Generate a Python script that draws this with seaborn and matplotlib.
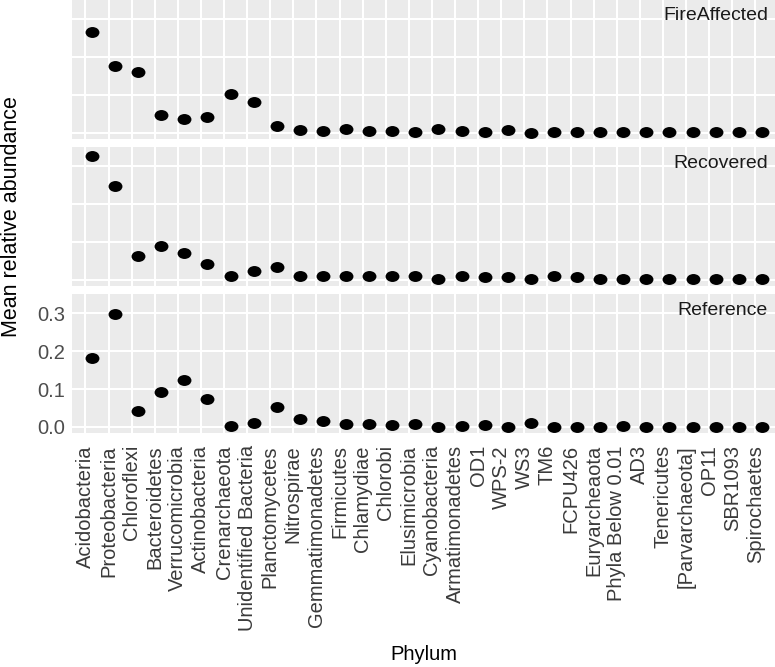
import numpy as np
import pandas as pd
import matplotlib
matplotlib.use("Agg")
import matplotlib.pyplot as plt
import seaborn as sns
from matplotlib.path import Path
from matplotlib.transforms import Affine2D, ScaledTranslation

sns.set_theme(style="darkgrid")
plt.rcParams["font.family"] = ["Liberation Sans", "DejaVu Sans"]

phyla = ["Acidobacteria", "Proteobacteria", "Chloroflexi", "Bacteroidetes",
         "Verrucomicrobia", "Actinobacteria", "Crenarchaeota",
         "Unidentified Bacteria", "Planctomycetes", "Nitrospirae",
         "Gemmatimonadetes", "Firmicutes", "Chlamydiae", "Chlorobi",
         "Elusimicrobia", "Cyanobacteria", "Armatimonadetes", "OD1", "WPS-2",
         "WS3", "TM6", "FCPU426", "Euryarcheaota", "Phyla Below 0.01", "AD3",
         "Tenericutes", "[Parvarchaeota]", "OP11", "SBR1093", "Spirochaetes"]

fire_affected = [0.266, 0.177, 0.159, 0.046, 0.035, 0.041, 0.102, 0.080,
                 0.017, 0.008, 0.005, 0.011, 0.005, 0.005, 0.002, 0.011,
                 0.005, 0.002, 0.007, 0.000, 0.002, 0.003, 0.003, 0.002,
                 0.002, 0.002, 0.002, 0.002, 0.003, 0.002]
recovered = [0.326, 0.247, 0.064, 0.090, 0.070, 0.042, 0.011, 0.022,
             0.033, 0.009, 0.009, 0.011, 0.011, 0.009, 0.011, 0.002,
             0.009, 0.007, 0.007, 0.001, 0.009, 0.007, 0.003, 0.001,
             0.002, 0.001, 0.001, 0.001, 0.001, 0.001]
reference = [0.182, 0.299, 0.043, 0.093, 0.124, 0.073, 0.003, 0.011,
             0.053, 0.020, 0.016, 0.008, 0.007, 0.005, 0.008, 0.001,
             0.003, 0.005, 0.000, 0.010, 0.001, 0.001, 0.001, 0.003,
             0.001, 0.001, 0.001, 0.001, 0.001, 0.001]

sites = ["FireAffected", "Recovered", "Reference"]

df = pd.DataFrame({"Phylum": phyla, "FireAffected": fire_affected,
                   "Recovered": recovered, "Reference": reference})
df = df.melt(id_vars="Phylum", var_name="Site", value_name="Abundance")

# points look slightly oval in the original
oval = Path.unit_circle().transformed(Affine2D().scale(1.27, 1.0))

fig, axes = plt.subplots(3, 1, figsize=(7.75, 6.67), dpi=100,
                         sharex=True, sharey=True)
fig.subplots_adjust(left=72 / 775, right=1.0, top=1.0,
                    bottom=(667 - 433.3) / 667, hspace=0.0585)

shift = ScaledTranslation(6.5 / 100, 0, fig.dpi_scale_trans)

for ax, site in zip(axes, sites):
    sub = df[df["Site"] == site]
    sns.scatterplot(data=sub, x="Phylum", y="Abundance", ax=ax,
                    marker=oval, s=100, color="black", linewidth=0,
                    legend=False)
    for coll in ax.collections:
        coll.set_offset_transform(coll.get_offset_transform() + shift)
    ax.set_facecolor("#EBEBEB")
    ax.grid(True, color="white", linewidth=1.5)
    for sp in ax.spines.values():
        sp.set_visible(False)
    ax.set_xlabel("")
    ax.set_ylabel("")
    ax.annotate(site, xy=(1, 1), xycoords="axes fraction",
                xytext=(-5, -11.5), textcoords="offset points",
                ha="right", va="center", fontsize=14, color="#1A1A1A")
    ax.tick_params(axis="y", length=3, width=0.8, color="#333333",
                   labelsize=14.5, labelcolor="#4D4D4D", pad=2)
    ax.tick_params(axis="x", length=0)

axes[0].set_ylim(-0.0167, 0.35)
axes[0].set_yticks([0.0, 0.1, 0.2, 0.3])
axes[0].set_xlim(-0.58, len(phyla) - 1 + 0.85)
for ax in axes[:2]:
    ax.tick_params(axis="y", labelleft=False)

bottom = axes[2]
bottom.tick_params(axis="x", length=3, width=0.8, color="#333333",
                   labelsize=14.5, labelcolor="#3A3A3A", pad=5.5)
bottom.set_xticks(range(len(phyla)))
bottom.set_xticklabels(phyla, rotation=90, ha="center", va="top")
bottom.set_yticklabels(["0.0", "0.1", "0.2", "0.3"])

fig.text((72 + 775) / 2 / 775, 1 - 654 / 667, "Phylum", ha="center",
         va="center", fontsize=14.5, color="black")
fig.text(12 / 775, 1 - 217 / 667, "Mean relative abundance", rotation=90,
         ha="center", va="center", fontsize=15.5, color="black")

fig.savefig("out.png", dpi=100)
